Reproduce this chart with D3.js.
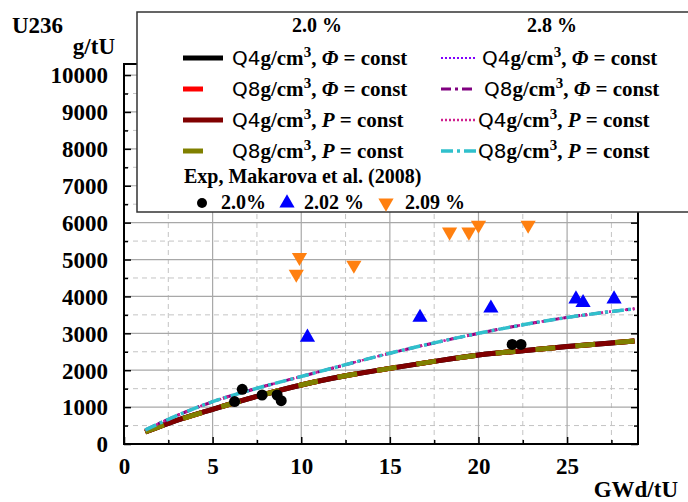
<!DOCTYPE html>
<html>
<head>
<meta charset="utf-8">
<script src="https://cdn.jsdelivr.net/npm/d3@7"></script>
<style>
  body { margin: 0; background: #fff; }
  svg { display: block; }
  text { font-family: "Liberation Serif", "Times New Roman", serif; font-weight: bold; fill: #000; }
  .sans { font-family: "DejaVu Sans", "Liberation Sans", Arial, sans-serif; font-weight: normal; }
</style>
</head>
<body>
<svg id="chart" width="688" height="502"></svg>
<script>
// ---------------- DATA ----------------
const burnup = [1.2, 2.5, 5, 7.5, 10, 12.5, 15, 17.5, 20, 22.5, 25, 27.5, 28.8];
// 2.0 % enrichment (four calculations, nearly identical)
const e20_Q4_phi = [325, 560, 940, 1290, 1600, 1850, 2050, 2240, 2410, 2530, 2640, 2740, 2790];
const e20_Q8_phi = [325, 560, 940, 1290, 1600, 1850, 2050, 2240, 2410, 2530, 2640, 2740, 2790];
const e20_Q4_P   = [325, 560, 940, 1290, 1600, 1850, 2050, 2240, 2410, 2530, 2640, 2740, 2790];
const e20_Q8_P   = [325, 560, 940, 1290, 1600, 1850, 2050, 2240, 2410, 2530, 2640, 2740, 2790];
// 2.8 % enrichment
const e28_Q4_phi = [380, 670, 1146, 1510, 1830, 2150, 2460, 2740, 3000, 3230, 3430, 3590, 3667];
const e28_Q8_phi = [380, 670, 1146, 1510, 1830, 2150, 2460, 2740, 3000, 3230, 3430, 3590, 3667];
const e28_Q4_P   = [380, 670, 1146, 1510, 1830, 2150, 2460, 2740, 3000, 3230, 3430, 3590, 3667];
const e28_Q8_P   = [380, 670, 1146, 1510, 1830, 2150, 2460, 2740, 3000, 3230, 3430, 3590, 3667];
// Experimental points, Makarova et al. (2008)
const exp20_x = [6.24, 6.67, 7.79, 8.64, 8.87, 21.9, 22.4];
const exp20_y = [1150, 1482, 1328, 1328, 1175, 2700, 2700];
const exp202_x = [10.35, 16.7, 20.7, 25.5, 25.9, 27.65];
const exp202_y = [2890, 3430, 3680, 3930, 3830, 3930];
const exp209_x = [9.72, 9.9, 12.97, 18.37, 19.46, 20.0, 22.8];
const exp209_y = [4607, 5060, 4850, 5750, 5750, 5935, 5935];
// Ticks
const xTicksMajor = [0, 5, 10, 15, 20, 25];
const xTicksMinor = [2.5, 7.5, 12.5, 17.5, 22.5, 27.5];
const yTicksMajor = [0, 1000, 2000, 3000, 4000, 5000, 6000, 7000, 8000, 9000, 10000];
const yTicksMinor = [500, 1500, 2500, 3500, 4500, 5500, 6500, 7500, 8500, 9500];
const xTitle = "GWd/tU";
const yTitle1 = "U236";
const yTitle2 = "g/tU";
const header20 = "2.0 %";
const header28 = "2.8 %";
const expTitle = "Exp, Makarova et al. (2008)";
const expLabels = ["2.0%", "2.02 %", "2.09 %"];

// ---------------- SETUP ----------------
const svg = d3.select("#chart");
const L = 124, R = 638, T = 64, B = 444;
const x = d3.scaleLinear().domain([0, 29]).range([L, R]);
const y = d3.scaleLinear().domain([0, 10300]).range([B, T]);

// gridlines
const grid = svg.append("g");
grid.selectAll(".gxm").data(xTicksMinor).join("line")
  .attr("x1", d => x(d)).attr("x2", d => x(d)).attr("y1", B).attr("y2", T)
  .attr("stroke", "#c4c4c4").attr("stroke-width", 1).attr("stroke-dasharray", "5,4");
grid.selectAll(".gym").data(yTicksMinor).join("line")
  .attr("y1", d => y(d)).attr("y2", d => y(d)).attr("x1", L).attr("x2", R)
  .attr("stroke", "#c4c4c4").attr("stroke-width", 1).attr("stroke-dasharray", "5,4");
grid.selectAll(".gx").data(xTicksMajor.filter(d => d > 0)).join("line")
  .attr("x1", d => x(d)).attr("x2", d => x(d)).attr("y1", B).attr("y2", T)
  .attr("stroke", "#a8a8a8").attr("stroke-width", 1.2);
grid.selectAll(".gy").data(yTicksMajor.filter(d => d > 0)).join("line")
  .attr("y1", d => y(d)).attr("y2", d => y(d)).attr("x1", L).attr("x2", R)
  .attr("stroke", "#a8a8a8").attr("stroke-width", 1.2);

// curves
const line = d3.line().x(d => x(d[0])).y(d => y(d[1])).curve(d3.curveMonotoneX);
const series = [
  { v: e20_Q4_phi, color: "#000000", w: 5, dash: null },
  { v: e20_Q8_phi, color: "#ff0000", w: 5, dash: "20,20" },
  { v: e20_Q4_P,   color: "#800000", w: 5, dash: null },
  { v: e20_Q8_P,   color: "#808000", w: 5, dash: "20,20" },
  { v: e28_Q4_phi, color: "#8000ff", w: 2, dash: "2,2" },
  { v: e28_Q8_phi, color: "#800080", w: 3, dash: "10,4,3,4" },
  { v: e28_Q4_P,   color: "#d0208f", w: 2.5, dash: "2,2" },
  { v: e28_Q8_P,   color: "#30c0cc", w: 3.5, dash: "12,4,3,4" }
];
series.forEach(s => {
  svg.append("path")
    .datum(burnup.map((b, i) => [b, s.v[i]]))
    .attr("d", line)
    .attr("fill", "none")
    .attr("stroke", s.color)
    .attr("stroke-width", s.w)
    .attr("stroke-dasharray", s.dash)
    .attr("stroke-linecap", "butt");
});

// experimental markers
const tri = d3.symbol().type(d3.symbolTriangle).size(100);
svg.append("g").selectAll("circle").data(exp20_x.map((d, i) => [d, exp20_y[i]])).join("circle")
  .attr("cx", d => x(d[0])).attr("cy", d => y(d[1])).attr("r", 5.5).attr("fill", "#000");
svg.append("g").selectAll("path").data(exp202_x.map((d, i) => [d, exp202_y[i]])).join("path")
  .attr("d", tri).attr("transform", d => `translate(${x(d[0])},${y(d[1])})`).attr("fill", "#0000ff");
svg.append("g").selectAll("path").data(exp209_x.map((d, i) => [d, exp209_y[i]])).join("path")
  .attr("d", tri).attr("transform", d => `translate(${x(d[0])},${y(d[1])}) rotate(180)`).attr("fill", "#ff8010");

// axes frame
const ax = svg.append("g");
ax.append("rect").attr("x", L).attr("y", T).attr("width", R - L).attr("height", B - T)
  .attr("fill", "none").attr("stroke", "#000").attr("stroke-width", 2);

// ticks via d3 axes (inward)
const xAxisB = d3.axisBottom(x).tickValues(xTicksMajor).tickSize(-7).tickFormat(d3.format("d")).tickPadding(14);
const gxb = svg.append("g").attr("transform", `translate(0,${B})`).call(xAxisB);
gxb.select(".domain").remove();
gxb.selectAll("line").attr("stroke", "#000").attr("stroke-width", 1.5);
gxb.selectAll("text").attr("font-size", 23).attr("dy", "0.71em")
  .style("font-family", "'Liberation Serif', serif").style("font-weight", "bold");
svg.append("g").attr("transform", `translate(0,${B})`)
  .call(d3.axisBottom(x).tickValues(xTicksMinor).tickSize(-4).tickFormat(""))
  .call(g => g.select(".domain").remove())
  .selectAll("line").attr("stroke", "#000").attr("stroke-width", 1.5);

const yAxisL = d3.axisLeft(y).tickValues(yTicksMajor).tickSize(-7).tickFormat(d3.format("d")).tickPadding(16);
const gyl = svg.append("g").attr("transform", `translate(${L},0)`).call(yAxisL);
gyl.select(".domain").remove();
gyl.selectAll("line").attr("stroke", "#000").attr("stroke-width", 1.5);
gyl.selectAll("text").attr("font-size", 23).attr("dy", "0.34em")
  .style("font-family", "'Liberation Serif', serif").style("font-weight", "bold");
svg.append("g").attr("transform", `translate(${L},0)`)
  .call(d3.axisLeft(y).tickValues(yTicksMinor).tickSize(-4).tickFormat(""))
  .call(g => g.select(".domain").remove())
  .selectAll("line").attr("stroke", "#000").attr("stroke-width", 1.5);

svg.append("g").attr("transform", `translate(${R},0)`)
  .call(d3.axisRight(y).tickValues(yTicksMajor).tickSize(-7).tickFormat(""))
  .call(g => g.select(".domain").remove())
  .selectAll("line").attr("stroke", "#000").attr("stroke-width", 1.5);
svg.append("g").attr("transform", `translate(${R},0)`)
  .call(d3.axisRight(y).tickValues(yTicksMinor).tickSize(-4).tickFormat(""))
  .call(g => g.select(".domain").remove())
  .selectAll("line").attr("stroke", "#000").attr("stroke-width", 1.5);

// axis titles
svg.append("text").attr("x", 12).attr("y", 33).attr("font-size", 23).text(yTitle1);
svg.append("text").attr("x", 115).attr("y", 54).attr("font-size", 23).attr("text-anchor", "end").text(yTitle2);
svg.append("text").attr("x", 678).attr("y", 497).attr("font-size", 23).attr("text-anchor", "end").text(xTitle);

// ---------------- LEGEND ----------------
const lg = svg.append("g");
lg.append("rect").attr("x", 137).attr("y", 12).attr("width", 580).attr("height", 200)
  .attr("fill", "#fff").attr("stroke", "#333").attr("stroke-width", 1.5);
const FS = 20;
const FSI = 21;
lg.append("text").attr("x", 317).attr("y", 32).attr("font-size", FS).attr("text-anchor", "middle").text(header20);
lg.append("text").attr("x", 552).attr("y", 32).attr("font-size", FS).attr("text-anchor", "middle").text(header28);

const legendItems = [
  { s: 0, q: "Q4", v: "\u03A6", col: 0, row: 0, tx: 232 },
  { s: 1, q: "Q8", v: "\u03A6", col: 0, row: 1, tx: 232 },
  { s: 2, q: "Q4", v: "P", col: 0, row: 2, tx: 232 },
  { s: 3, q: "Q8", v: "P", col: 0, row: 3, tx: 232 },
  { s: 4, q: "Q4", v: "\u03A6", col: 1, row: 0, tx: 482 },
  { s: 5, q: "Q8", v: "\u03A6", col: 1, row: 1, tx: 484 },
  { s: 6, q: "Q4", v: "P", col: 1, row: 2, tx: 478 },
  { s: 7, q: "Q8", v: "P", col: 1, row: 3, tx: 478 }
];
legendItems.forEach(it => {
  const s = series[it.s];
  const ly = 58 + it.row * 31;
  const x1 = it.col === 0 ? 183 : 441;
  const x2 = it.col === 0 ? 223 : 476;
  lg.append("line").attr("x1", x1).attr("x2", x2).attr("y1", ly).attr("y2", ly)
    .attr("stroke", s.color).attr("stroke-width", s.w).attr("stroke-dasharray", s.dash);
  const t = lg.append("text").attr("x", it.tx).attr("y", ly + 7).attr("font-size", FSI);
  t.append("tspan").attr("class", "sans").attr("font-size", 20).text(it.q);
  t.append("tspan").text("g/cm");
  t.append("tspan").attr("font-size", 15).attr("dy", -8).text("3");
  t.append("tspan").attr("dy", 8).text(", ");
  t.append("tspan").attr("font-style", "italic").text(it.v === "P" ? "P" : "\u03A6");
  t.append("tspan").text(" = const");
});

lg.append("text").attr("x", 184).attr("y", 183).attr("font-size", FS).text(expTitle);
lg.append("circle").attr("cx", 202).attr("cy", 203).attr("r", 5).attr("fill", "#000");
lg.append("text").attr("x", 221).attr("y", 209).attr("font-size", FS).text(expLabels[0]);
lg.append("path").attr("d", tri).attr("transform", "translate(287,203)").attr("fill", "#0000ff");
lg.append("text").attr("x", 304).attr("y", 209).attr("font-size", FS).text(expLabels[1]);
lg.append("path").attr("d", tri).attr("transform", "translate(386,203) rotate(180)").attr("fill", "#ff8010");
lg.append("text").attr("x", 405).attr("y", 209).attr("font-size", FS).text(expLabels[2]);
</script>
</body>
</html>
